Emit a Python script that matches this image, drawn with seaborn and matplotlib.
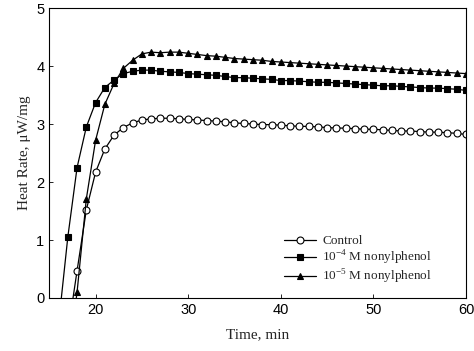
import pandas as pd
import matplotlib
matplotlib.use('Agg')
import matplotlib.pyplot as plt
import seaborn as sns

# 시간(min)별 열생산률 (μW/mg)
t_control = list(range(17, 61))
control = [-0.60, 0.47, 1.52, 2.17, 2.57, 2.81, 2.94, 3.02, 3.07, 3.09, 3.10, 3.10, 3.09, 3.08,
           3.07, 3.06, 3.05, 3.04, 3.02, 3.01, 3.00, 2.99, 2.99, 2.98, 2.97, 2.96, 2.96, 2.95,
           2.94, 2.93, 2.93, 2.92, 2.91, 2.91, 2.90, 2.89, 2.88, 2.88, 2.87, 2.86, 2.86, 2.85,
           2.84, 2.82]

t_np4 = list(range(16, 61))
np4 = [-0.45, 1.05, 2.25, 2.95, 3.37, 3.63, 3.76, 3.87, 3.91, 3.93, 3.93, 3.91, 3.90, 3.89,
       3.87, 3.86, 3.85, 3.84, 3.82, 3.80, 3.80, 3.79, 3.78, 3.77, 3.75, 3.75, 3.74, 3.73,
       3.72, 3.72, 3.71, 3.70, 3.69, 3.68, 3.67, 3.66, 3.66, 3.65, 3.64, 3.63, 3.62, 3.62,
       3.61, 3.60, 3.58]

t_np5 = list(range(17, 61))
np5 = [-1.10, 0.10, 1.71, 2.72, 3.34, 3.70, 3.96, 4.10, 4.21, 4.24, 4.23, 4.24, 4.24, 4.22,
       4.20, 4.18, 4.17, 4.15, 4.13, 4.12, 4.11, 4.10, 4.08, 4.07, 4.06, 4.05, 4.04, 4.03,
       4.02, 4.01, 4.00, 3.99, 3.98, 3.97, 3.96, 3.95, 3.94, 3.93, 3.92, 3.91, 3.90, 3.89,
       3.88, 3.87]

labels = ['Control', '10$^{-4}$ M nonylphenol', '10$^{-5}$ M nonylphenol']

df = pd.concat([
    pd.DataFrame({'time': t_control, 'rate': control, 'group': labels[0]}),
    pd.DataFrame({'time': t_np4, 'rate': np4, 'group': labels[1]}),
    pd.DataFrame({'time': t_np5, 'rate': np5, 'group': labels[2]}),
])

sns.set_style('ticks')
plt.rcParams['font.family'] = ['Liberation Sans', 'DejaVu Sans']
plt.rcParams['mathtext.fontset'] = 'custom'
plt.rcParams['mathtext.rm'] = 'Liberation Serif'

fig = plt.figure(figsize=(4.74, 3.51), dpi=100)
ax = fig.add_axes([0.104, 0.151, 0.879, 0.826])

sns.lineplot(data=df, x='time', y='rate', hue='group', style='group',
             palette=['black'] * 3, markers=['o', 's', '^'], dashes=False,
             markersize=5, linewidth=0.9, markeredgecolor='black',
             markeredgewidth=0.8, ax=ax)

# 대조군은 빈 원
for line in ax.get_lines()[:1]:
    line.set_markerfacecolor('white')

ax.set_xlim(15, 60)
ax.set_ylim(0, 5)
ax.set_xticks([20, 30, 40, 50, 60])
ax.set_yticks([0, 1, 2, 3, 4, 5])
ax.tick_params(direction='in', length=3, width=0.6, labelsize=10.5, colors='black')
for s in ax.spines.values():
    s.set_linewidth(0.8)
    s.set_color('black')

ax.set_xlabel('Time, min', family='Liberation Serif', fontsize=11, labelpad=8)
ax.set_ylabel('Heat Rate, μW/mg', family='Liberation Serif', fontsize=11)

h, l = ax.get_legend_handles_labels()
h[0].set_markerfacecolor('white')
leg = ax.legend(h, l, loc='lower left', bbox_to_anchor=(0.535, 0.0), frameon=False,
                prop={'family': 'Liberation Serif', 'size': 9.5},
                handlelength=2.4, labelspacing=0.08, handletextpad=0.5)

fig.savefig('out.png', dpi=100)
